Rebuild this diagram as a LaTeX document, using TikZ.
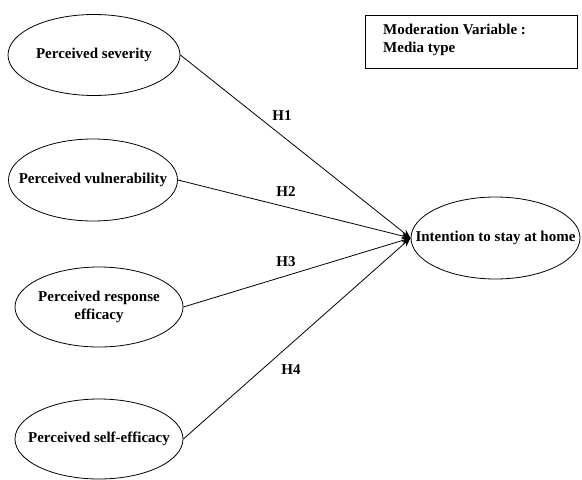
\documentclass[tikz,border=0pt]{standalone}
\usepackage{fontspec}
\setmainfont{Liberation Serif}
\usetikzlibrary{shapes.geometric,arrows.meta}
\tikzset{
  txt/.style={font=\fontsize{15}{18}\selectfont\bfseries, align=center, inner sep=0pt},
  var/.style={ellipse, draw, line width=0.8pt, inner sep=0pt},
  link/.style={line width=0.8pt, -{Stealth[length=9pt,width=7pt]}},
  hyp/.style={font=\fontsize{15}{18}\selectfont\bfseries, inner sep=0pt},
}
\begin{document}
\begin{tikzpicture}[x=1pt,y=-1pt]
\useasboundingbox (0,0) rectangle (582,480);
\node[var, minimum width=172pt, minimum height=81pt, label={[txt]center:Perceived severity}] (sev) at (94,55) {};
\node[var, minimum width=169pt, minimum height=82pt, label={[txt]center:Perceived vulnerability}] (vul) at (93,180) {};
\node[var, minimum width=168pt, minimum height=80pt, label={[txt]center:Perceived response\\efficacy}] (res) at (99,307) {};
\node[var, minimum width=168pt, minimum height=80pt, label={[txt]center:Perceived self-efficacy}] (self) at (99,439) {};
\node[var, minimum width=169pt, minimum height=82pt, label={[txt]center:Intention to stay at home}] (int) at (495.5,238) {};
\node[draw, line width=0.8pt, minimum width=212pt, minimum height=53pt, inner sep=0pt] (box) at (471,41.5) {};
\node[anchor=north west, inner sep=0pt, align=left, font=\fontsize{15}{18}\selectfont\bfseries] (boxt) at (383,24) {Moderation Variable :\\Media type};
\draw[link] (sev.east) -- (int.west);
\draw[link] (vul.east) -- (int.west);
\draw[link] (res.east) -- (int.west);
\draw[link] (self.east) -- (int.west);
\node[hyp] (h1) at (282,116) {H1};
\node[hyp] (h2) at (286,192) {H2};
\node[hyp] (h3) at (286,262) {H3};
\node[hyp] (h4) at (291,370) {H4};
\end{tikzpicture}
\end{document}
